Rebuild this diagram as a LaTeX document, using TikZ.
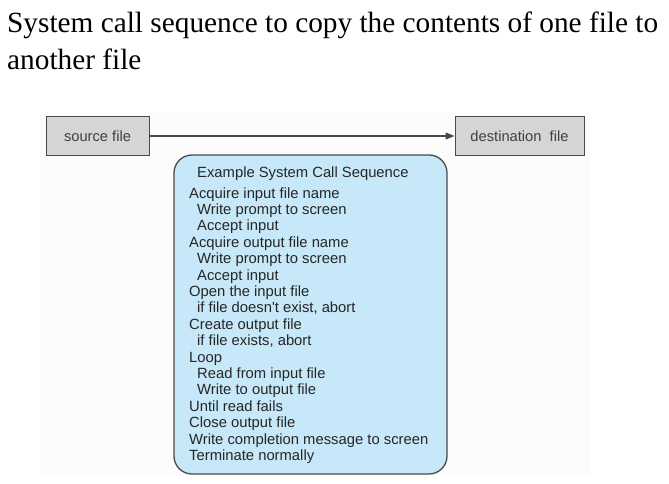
\documentclass[tikz,border=0pt]{standalone}
\usepackage{fontspec}
\setmainfont{Liberation Serif}
\newfontfamily\arialf{Liberation Sans}
\usetikzlibrary{arrows.meta}
\definecolor{boxgray}{HTML}{D3D5D7}
\definecolor{edgegray}{HTML}{4A4A4A}
\definecolor{seqblue}{HTML}{C6E8F8}
\definecolor{bgfaint}{HTML}{FCFCFC}
\tikzset{
  filebox/.style={draw=edgegray, line width=1pt, fill=boxgray, inner sep=0pt, font=\arialf\fontsize{14.7}{16}\selectfont, text=black!75},
  seqbox/.style={draw=edgegray, line width=1.3pt, fill=seqblue, rounded corners=18pt},
  seqtext/.style={font=\arialf\fontsize{14.8}{16.4}\selectfont, text=black!85, inner sep=0pt, anchor=base west},
  titletext/.style={font=\fontsize{29.3}{37}\selectfont, inner sep=0pt, anchor=base west}
}
\begin{document}
\begin{tikzpicture}[x=1pt,y=-1pt]
\useasboundingbox (0,0) rectangle (669,484);
\fill[bgfaint] (40,112) rectangle (590,476);
\node[titletext] (t1) at (7,33) {System call sequence to copy the contents of one file to};
\node[titletext] (t2) at (7,70) {another file};
\node[filebox, minimum width=103pt, minimum height=38pt] (src) at (97.5,136) {source file};
\node[filebox, minimum width=129pt, minimum height=38pt] (dst) at (519.5,136) {destination\ \ file};
\draw[edgegray, line width=1.3pt, -{Triangle[length=9pt,width=7pt]}] (src.east) -- (dst.west);
\draw[seqbox] (174,155) rectangle (447,474);
\node[seqtext] (h) at (197,177) {Example System Call Sequence};
\node[seqtext] (l1) at (189,198) {Acquire input file name};
\node[seqtext] (l2) at (197,214.4) {Write prompt to screen};
\node[seqtext] (l3) at (197,230.8) {Accept input};
\node[seqtext] (l4) at (189,247.2) {Acquire output file name};
\node[seqtext] (l5) at (197,263.6) {Write prompt to screen};
\node[seqtext] (l6) at (197,280) {Accept input};
\node[seqtext] (l7) at (189,296.4) {Open the input file};
\node[seqtext] (l8) at (197,312.8) {if file doesn't exist, abort};
\node[seqtext] (l9) at (189,329.2) {Create output file};
\node[seqtext] (l10) at (197,345.6) {if file exists, abort};
\node[seqtext] (l11) at (189,362) {Loop};
\node[seqtext] (l12) at (197,378.4) {Read from input file};
\node[seqtext] (l13) at (197,394.8) {Write to output file};
\node[seqtext] (l14) at (189,411.2) {Until read fails};
\node[seqtext] (l15) at (189,427.6) {Close output file};
\node[seqtext] (l16) at (189,444) {Write completion message to screen};
\node[seqtext] (l17) at (189,460.4) {Terminate normally};
\end{tikzpicture}
\end{document}
